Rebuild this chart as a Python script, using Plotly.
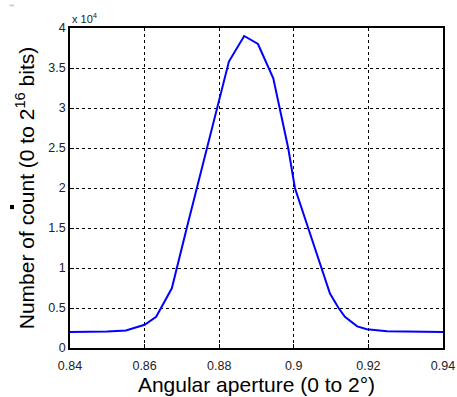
import plotly.graph_objects as go

angle = [0.840, 0.850, 0.855, 0.860, 0.8631, 0.8673, 0.8713, 0.8768, 0.8826,
         0.8867, 0.8904, 0.8945, 0.8985, 0.9003, 0.9039, 0.9075, 0.9097, 0.912,
         0.9137, 0.917, 0.9196, 0.925, 0.940]
counts = [2000, 2050, 2200, 2900, 3900, 7460, 15000, 25000, 35800,
          39000, 38000, 33700, 25000, 20000, 15000, 10000, 6800, 5000,
          3900, 2700, 2350, 2080, 2000]

x_ticks = [0.84, 0.86, 0.88, 0.90, 0.92, 0.94]
x_tick_labels = ["0.84", "0.86", "0.88", "0.9", "0.92", "0.94"]
y_ticks = [0, 5000, 10000, 15000, 20000, 25000, 30000, 35000, 40000]
y_tick_labels = ["0", "0.5", "1", "1.5", "2", "2.5", "3", "3.5", "4"]

FONT = "Arial, Liberation Sans, Helvetica, sans-serif"

fig = go.Figure()
fig.add_trace(go.Scatter(x=angle, y=counts, mode="lines",
                         line=dict(color="#0000ff", width=2), showlegend=False))

axis_common = dict(showline=True, linecolor="black", linewidth=1.5, mirror=True,
                   showgrid=True, gridcolor="black", griddash="dot", gridwidth=1,
                   zeroline=False, ticks="inside", ticklen=4, tickcolor="black",
                   automargin=False,
                   tickfont=dict(family=FONT, size=12.5, color="#222"))

fig.update_xaxes(range=[0.84, 0.94], tickvals=x_ticks, ticktext=x_tick_labels,
                 ticklabelstandoff=5,
                 title=dict(text="Angular aperture (0 to 2°)", standoff=6,
                            font=dict(family=FONT, size=21, color="black")),
                 **axis_common)
fig.update_yaxes(range=[0, 40000], tickvals=y_ticks, ticktext=y_tick_labels,
                 title=dict(text="Number of count (0 to 2<sup>16</sup> bits)", standoff=8,
                            font=dict(family=FONT, size=21, color="black")),
                 **axis_common)

fig.add_annotation(x=0, y=1, xref="paper", yref="paper", xanchor="left", yanchor="bottom",
                   text="x 10<sup>4</sup>", showarrow=False, yshift=1,
                   font=dict(family=FONT, size=11, color="#222"))

# small stray marks visible in the reference image
fig.add_shape(type="rect", xref="paper", yref="paper",
              x0=-0.1609, x1=-0.1501, y0=0.434, y1=0.447,
              fillcolor="black", line=dict(width=0))
fig.add_shape(type="rect", xref="paper", yref="paper",
              x0=-0.1625, x1=-0.150, y0=1.068, y1=1.073,
              fillcolor="#c8c8c8", line=dict(width=0))

fig.update_layout(width=457, height=397, paper_bgcolor="white", plot_bgcolor="white",
                  margin=dict(l=70, r=14, t=28, b=49))

fig.write_html("out.html", config={"displayModeBar": False},
               post_script="document.body.style.margin='0';document.body.style.overflow='hidden';")
